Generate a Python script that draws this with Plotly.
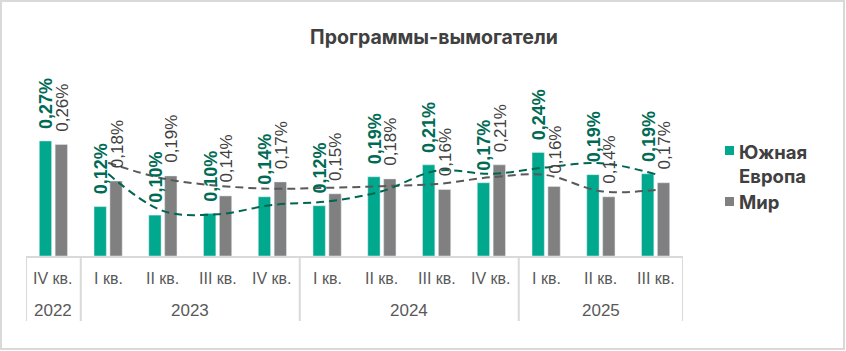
import plotly.graph_objects as go

# ---------------- data ----------------
quarters = ["IV кв.", "I кв.", "II кв.", "III кв.", "IV кв.", "I кв.", "II кв.", "III кв.", "IV кв.", "I кв.", "II кв.", "III кв."]
years = ["2022", "2023", "2024", "2025"]
year_spans = [(0, 0), (1, 4), (5, 8), (9, 11)]
south_europe = [0.270, 0.116, 0.096, 0.100, 0.139, 0.118, 0.186, 0.214, 0.172, 0.243, 0.191, 0.193]
world = [0.262, 0.176, 0.188, 0.141, 0.174, 0.146, 0.181, 0.156, 0.214, 0.163, 0.139, 0.172]
# dashed trend lines (moving average, 2 periods), from "I кв. 2023"
trend_south_europe = [0.193, 0.106, 0.098, 0.120, 0.128, 0.152, 0.200, 0.193, 0.208, 0.218, 0.192]
trend_world = [0.219, 0.182, 0.165, 0.158, 0.160, 0.164, 0.169, 0.185, 0.190, 0.152, 0.155]
series_names = ["Южная<br>Европа", "Мир"]
title_text = "Программы-вымогатели"

# ---------------- styles ----------------
GREEN = "#00A88E"
GRAY = "#808080"
GREEN_TXT = "#006B55"
GRAY_TXT = "#404040"
GREEN_TREND = "#00664F"
GRAY_TREND = "#595959"
LINE = "#D9D9D9"
AXIS_TXT = "#595959"

W, H = 846, 351
L, R, T, B = 26, 163, 60, 95
PW, PH = W - L - R, H - T - B
BASE = H - B


def px2x(px):
    return (px - L) / PW


def py2y(py):
    return (BASE - py) / PH


n = len(quarters)
xs = list(range(n))
bw = 0.225
off = 0.145

fig = go.Figure()
fig.add_trace(go.Bar(x=[x - off for x in xs], y=south_europe, width=bw, marker_color=GREEN,
                     showlegend=False, hoverinfo="skip"))
fig.add_trace(go.Bar(x=[x + off for x in xs], y=world, width=bw, marker_color=GRAY,
                     showlegend=False, hoverinfo="skip"))
fig.add_trace(go.Scatter(x=xs[1:], y=trend_world, mode="lines",
                         line=dict(color=GRAY_TREND, width=2, dash="8px,5px", shape="spline", smoothing=1),
                         showlegend=False, hoverinfo="skip"))
fig.add_trace(go.Scatter(x=xs[1:], y=trend_south_europe, mode="lines",
                         line=dict(color=GREEN_TREND, width=2, dash="8px,5px", shape="spline", smoothing=1),
                         showlegend=False, hoverinfo="skip"))

annotations = []
shapes = []


def fmt(v):
    return f"{v:.2f}".replace(".", ",") + "%"


for i in xs:
    annotations.append(dict(x=i - off + 0.02, y=south_europe[i], xref="x", yref="y", text="<b>" + fmt(south_europe[i]) + "</b>",
                            textangle=-90, showarrow=False, xanchor="center", yanchor="bottom", yshift=10,
                            font=dict(family="Liberation Sans, Arial", size=18, color=GREEN_TXT)))
    annotations.append(dict(x=i + off + 0.02, y=world[i], xref="x", yref="y", text=fmt(world[i]),
                            textangle=-90, showarrow=False, xanchor="center", yanchor="bottom", yshift=11,
                            font=dict(family="Liberation Sans, Arial", size=17, color=GRAY_TXT)))
    annotations.append(dict(x=i, y=py2y(278), xref="x", yref="paper", text=quarters[i], showarrow=False,
                            xanchor="center", yanchor="middle",
                            font=dict(family="Liberation Sans Narrow, Liberation Sans, Arial", size=16, color=AXIS_TXT)))

for (a, b), yr in zip(year_spans, years):
    annotations.append(dict(x=(a + b) / 2, y=py2y(310), xref="x", yref="paper", text=yr, showarrow=False,
                            xanchor="center", yanchor="middle",
                            font=dict(family="Liberation Sans Narrow, Liberation Sans, Arial", size=17, color=AXIS_TXT)))

# category table lines
shapes.append(dict(type="line", xref="x", yref="paper", x0=-0.5, x1=n - 0.5, y0=py2y(257), y1=py2y(257),
                   line=dict(color=LINE, width=2)))
bounds = [-0.5] + [b + 0.5 for (a, b) in year_spans]
for bx in bounds:
    shapes.append(dict(type="line", xref="x", yref="paper", x0=bx, x1=bx, y0=py2y(257), y1=py2y(321),
                       line=dict(color=LINE, width=2)))

# outer frame
shapes.append(dict(type="rect", xref="paper", yref="paper", x0=px2x(1), x1=px2x(844), y0=py2y(349), y1=py2y(1),
                   line=dict(color=LINE, width=2), fillcolor="rgba(0,0,0,0)", layer="below"))

# manual legend
for (yc, col) in [(150.5, GREEN), (201.5, GRAY)]:
    shapes.append(dict(type="rect", xref="paper", yref="paper", x0=px2x(725), x1=px2x(734),
                       y0=py2y(yc + 4.5), y1=py2y(yc - 4.5), line=dict(width=0), fillcolor=col))
annotations.append(dict(x=px2x(737), y=py2y(139), xref="paper", yref="paper", text="<b>" + series_names[0] + "</b>",
                        showarrow=False, xanchor="left", yanchor="top", align="left",
                        font=dict(family="Inter", size=18.5, color=GRAY_TXT)))
annotations.append(dict(x=px2x(737), y=py2y(201.5), xref="paper", yref="paper", text="<b>" + series_names[1] + "</b>",
                        showarrow=False, xanchor="left", yanchor="middle", align="left",
                        font=dict(family="Inter", size=18.5, color=GRAY_TXT)))

fig.update_layout(
    width=W, height=H,
    margin=dict(l=L, r=R, t=T, b=B),
    paper_bgcolor="white", plot_bgcolor="white",
    barmode="overlay",
    showlegend=False,
    title=dict(text="<b>" + title_text + "</b>", x=434 / W, xanchor="center", y=1 - 37 / H, yanchor="middle",
               font=dict(family="Inter", size=19.5, color=GRAY_TXT)),
    xaxis=dict(range=[-0.5, n - 0.5], visible=False, fixedrange=True),
    yaxis=dict(range=[0, PH / 426], visible=False, fixedrange=True),
    annotations=annotations,
    shapes=shapes,
)

fig.write_html("out.html")
